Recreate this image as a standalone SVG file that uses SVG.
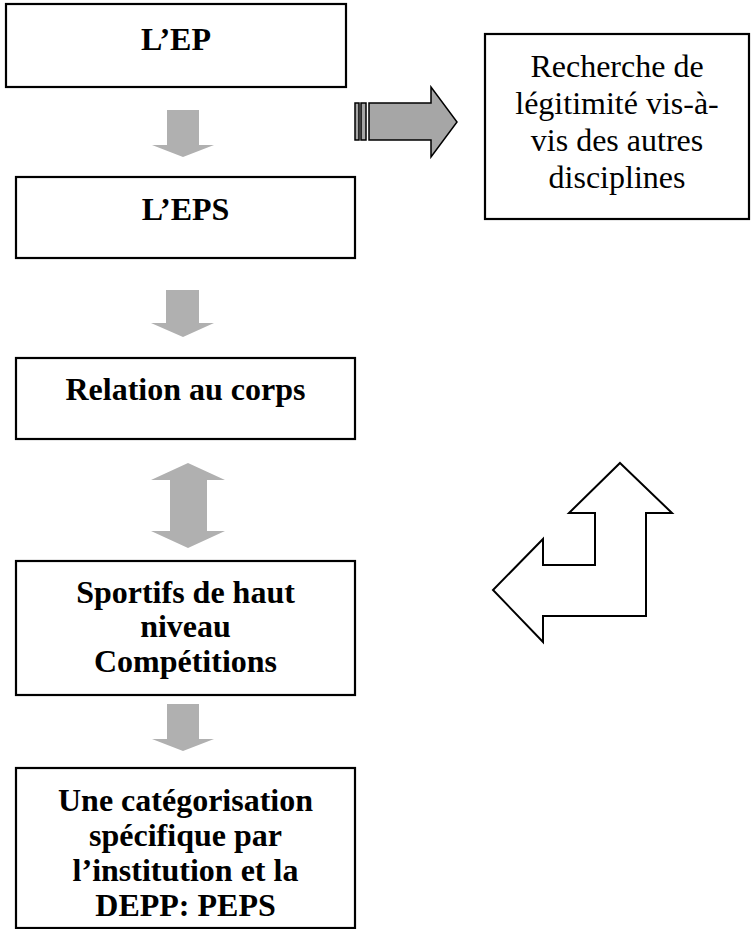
<svg xmlns="http://www.w3.org/2000/svg" width="755" height="929" viewBox="0 0 755 929">
<style>
.box{fill:#fff;stroke:#000;stroke-width:2.2}
.t{font-family:"Liberation Serif","Times New Roman",serif;font-size:32px;text-anchor:middle;fill:#000}
.b{font-weight:bold}
.g{fill:#b0b0b0;stroke:none}
.sa{fill:#a6a6a6;stroke:#000;stroke-width:1.5}
.ba{fill:#fff;stroke:#000;stroke-width:2}
</style>
<rect width="755" height="929" fill="#fff"/>
<g id="connectors">
<polygon class="g" points="167,110 199,110 199,145 214,145 183,157 152,145 167,145"/>
<polygon class="g" points="166,290 199,290 199,323 214,323 183,337 151,323 166,323"/>
<polygon class="g" points="188,463 225,480 207,480 207,531 225,531 188,548 151,531 170,531 170,480 151,480"/>
<polygon class="g" points="167,704 199,704 199,739 214,739 183,751 152,739 167,739"/>
<g id="striped-arrow">
<rect class="sa" x="355" y="103" width="4" height="37"/>
<rect class="sa" x="361" y="103" width="5" height="37"/>
<polygon class="sa" points="369,103 431,103 431,87 457,122 431,157 431,140 369,140"/>
</g>
<polygon id="bent-arrow" class="ba" points="620,463 672,513 646,513 646,616 543,616 543,642 493,590 543,539 543,565 595,565 595,513 569,513"/>
</g>
<g id="node-ep">
<rect class="box" x="6" y="4" width="340" height="83"/>
<text class="t b" x="176" y="50">L’EP</text>
</g>
<g id="node-eps">
<rect class="box" x="16" y="177" width="339" height="81"/>
<text class="t b" x="185.5" y="220">L’EPS</text>
</g>
<g id="node-corps">
<rect class="box" x="16" y="358" width="339" height="81"/>
<text class="t b" x="185.5" y="400">Relation au corps</text>
</g>
<g id="node-sportifs">
<rect class="box" x="16" y="561" width="339" height="134"/>
<text class="t b" x="185.5" y="603">Sportifs de haut</text>
<text class="t b" x="185.5" y="637">niveau</text>
<text class="t b" x="185.5" y="672">Compétitions</text>
</g>
<g id="node-peps">
<rect class="box" x="16" y="768" width="339" height="160"/>
<text class="t b" x="185.5" y="811">Une catégorisation</text>
<text class="t b" x="185.5" y="846">spécifique par</text>
<text class="t b" x="185.5" y="881">l’institution et la</text>
<text class="t b" x="185.5" y="916">DEPP: PEPS</text>
</g>
<g id="node-legitimite">
<rect class="box" x="485" y="34" width="264" height="185"/>
<text class="t" x="617" y="77">Recherche de</text>
<text class="t" x="617" y="114">légitimité vis-à-</text>
<text class="t" x="617" y="151">vis des autres</text>
<text class="t" x="617" y="188">disciplines</text>
</g>
</svg>
